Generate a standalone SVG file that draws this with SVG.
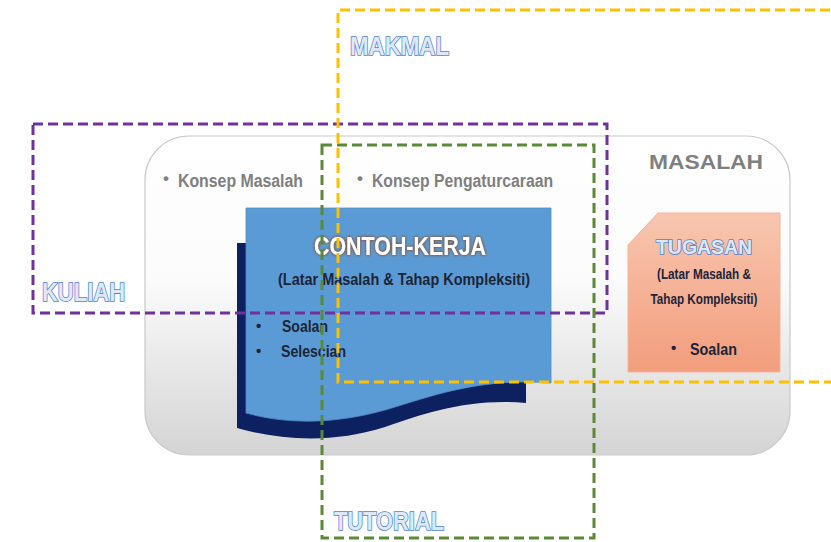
<svg xmlns="http://www.w3.org/2000/svg" width="831" height="542" viewBox="0 0 831 542">
  <defs>
    <linearGradient id="panelFill" x1="0" y1="0" x2="0" y2="1">
      <stop offset="0" stop-color="#ffffff"/>
      <stop offset="0.45" stop-color="#fbfbfb"/>
      <stop offset="1" stop-color="#d4d4d4"/>
    </linearGradient>
    <linearGradient id="taskFill" x1="0" y1="0" x2="0" y2="1">
      <stop offset="0" stop-color="#f8c6b0"/>
      <stop offset="1" stop-color="#f29d7c"/>
    </linearGradient>
    <filter id="glow" x="-10%" y="-30%" width="120%" height="160%">
      <feGaussianBlur in="SourceAlpha" stdDeviation="1.6" result="b"/>
      <feFlood flood-color="#8a5638"/>
      <feComposite in2="b" operator="in" result="g"/>
      <feMerge><feMergeNode in="g"/><feMergeNode in="g"/><feMergeNode in="SourceGraphic"/></feMerge>
    </filter>
    <style>
      .cond { font-family: "Liberation Sans Narrow", "Liberation Sans", Arial, sans-serif; font-weight: bold; }
      .grey { fill: #7f7f7f; }
      .dark { fill: #1c2538; }
      .outline { font-family: "Liberation Sans", Arial, sans-serif; font-weight: bold; fill: #dfe8f7; stroke: #4f7fcf; stroke-width: 1.6; paint-order: stroke; }
      .dash { fill: none; stroke-width: 3; stroke-dasharray: 10 5; }
    </style>
  </defs>

  <rect width="831" height="542" fill="#ffffff"/>

  <!-- MASALAH panel -->
  <g id="masalah">
    <rect x="145" y="136" width="645" height="319" rx="44" fill="url(#panelFill)" stroke="#c9c9c9" stroke-width="1.2"/>
    <text class="cond grey" x="649" y="169" font-size="21" textLength="114" lengthAdjust="spacingAndGlyphs">MASALAH</text>
    <text class="cond grey" x="163" y="184" font-size="17">•</text>
    <text class="cond grey" x="178" y="187" font-size="18" textLength="125" lengthAdjust="spacingAndGlyphs">Konsep Masalah</text>
    <text class="cond grey" x="357" y="184" font-size="17">•</text>
    <text class="cond grey" x="372" y="187" font-size="18" textLength="181" lengthAdjust="spacingAndGlyphs">Konsep Pengaturcaraan</text>
  </g>

  <!-- CONTOH-KERJA document -->
  <g id="contoh-kerja">
    <path d="M237,243 H526 V403 C470,398 425,413 385,427 C335,443 282,441 237,428 Z" fill="#0d2161"/>
    <path d="M246,208 H551 V383 C485,378 440,393 395,407 C345,423 292,426 246,413 Z" fill="#5b9bd5" stroke="#4f8dc6" stroke-width="0.8"/>
    <text class="cond" x="400" y="255" font-size="26" text-anchor="middle" fill="#ffffff" filter="url(#glow)" textLength="172" lengthAdjust="spacingAndGlyphs">CONTOH-KERJA</text>
    <text class="cond dark" x="404" y="285" font-size="17" text-anchor="middle" textLength="252" lengthAdjust="spacingAndGlyphs">(Latar Masalah &amp; Tahap Kompleksiti)</text>
    <text class="cond dark" x="256" y="331" font-size="15">•</text>
    <text class="cond dark" x="282" y="332" font-size="16" textLength="46" lengthAdjust="spacingAndGlyphs">Soalan</text>
    <text class="cond dark" x="256" y="356" font-size="15">•</text>
    <text class="cond dark" x="281" y="357" font-size="16" textLength="65" lengthAdjust="spacingAndGlyphs">Selescian</text>
  </g>

  <!-- TUGASAN card -->
  <g id="tugasan">
    <path d="M658,213 H780 V372 H628 V245 Z" fill="url(#taskFill)" stroke="#f2b59a" stroke-width="1"/>
    <text class="outline" x="704" y="254" font-size="21" text-anchor="middle" textLength="96" lengthAdjust="spacingAndGlyphs">TUGASAN</text>
    <text class="cond dark" x="704" y="279" font-size="15" text-anchor="middle" textLength="94" lengthAdjust="spacingAndGlyphs">(Latar Masalah &amp;</text>
    <text class="cond dark" x="704" y="304" font-size="15" text-anchor="middle" textLength="107" lengthAdjust="spacingAndGlyphs">Tahap Kompleksiti)</text>
    <text class="cond dark" x="671" y="353" font-size="15">•</text>
    <text class="cond dark" x="690" y="355" font-size="16" textLength="47" lengthAdjust="spacingAndGlyphs">Soalan</text>
  </g>

  <!-- grouping frames -->
  <g id="connectors">
    <path class="dash" stroke="#7030a0" d="M33,124 H607 V313 H33 Z"/>
    <path class="dash" stroke="#ffc000" d="M845,10 H338 V382 H845"/>
    <path class="dash" stroke="#5b8a36" d="M322,145 H594 V538 H322 Z"/>
  </g>

  <g id="kuliah"><text class="outline" x="42" y="301" font-size="25" textLength="83" lengthAdjust="spacingAndGlyphs">KULIAH</text></g>
  <g id="makmal"><text class="outline" x="350" y="55" font-size="25" textLength="99" lengthAdjust="spacingAndGlyphs">MAKMAL</text></g>
  <g id="tutorial"><text class="outline" x="334" y="530" font-size="25" textLength="110" lengthAdjust="spacingAndGlyphs">TUTORIAL</text></g>
</svg>
